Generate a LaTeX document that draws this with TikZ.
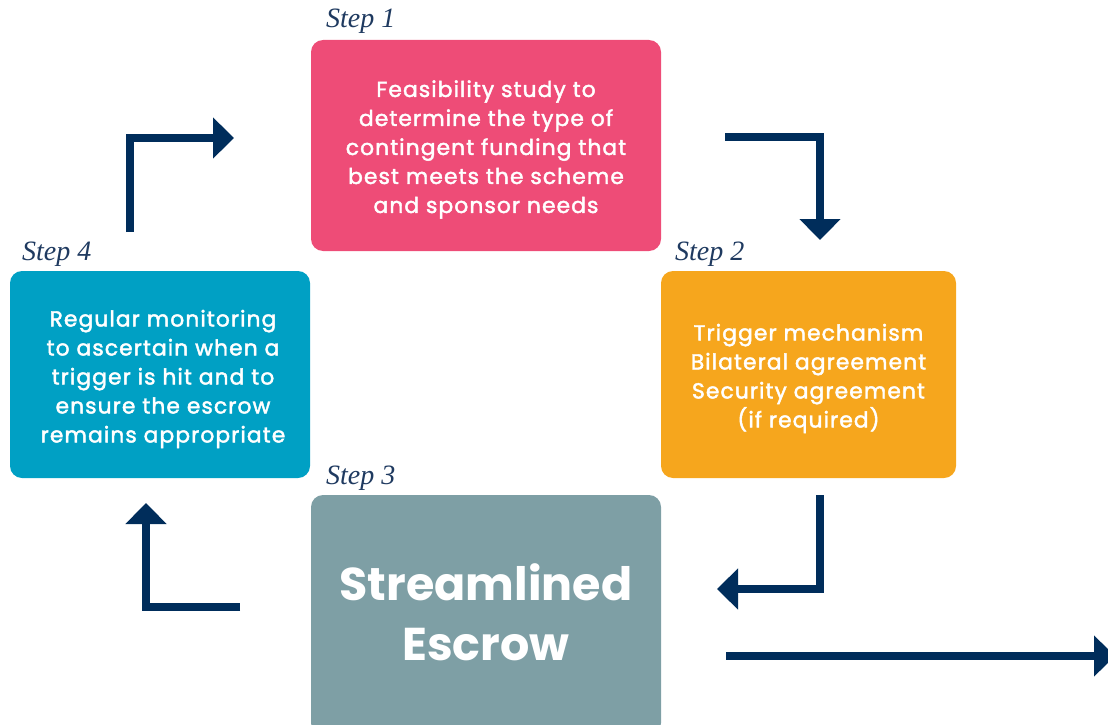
\documentclass[tikz,border=0pt]{standalone}
\usepackage{fontspec}
\setsansfont{Poppins}
\newfontfamily\medfont{Poppins}[FakeBold=2, LetterSpace=5]
\setmainfont{Liberation Serif}
\usetikzlibrary{arrows.meta}
\definecolor{pinkc}{HTML}{EE4C77}
\definecolor{orangec}{HTML}{F6A61D}
\definecolor{tealc}{HTML}{00A0C4}
\definecolor{greyc}{HTML}{7E9FA5}
\definecolor{navyc}{HTML}{002D5B}
\definecolor{labelc}{HTML}{1F3A60}
\tikzset{
  box/.style={rounded corners=12pt, inner sep=0pt, text=white, align=center,
    font=\medfont\fontsize{21.8}{29}\selectfont},
  steplabel/.style={anchor=west, inner sep=0pt, text=labelc,
    font=\itshape\fontsize{28}{30}\selectfont},
  flow/.style={draw=navyc, line width=8pt, -{Triangle[length=21pt,width=40pt]}}
}
\begin{document}
\begin{tikzpicture}[x=1pt,y=-1pt]
\useasboundingbox (0,0) rectangle (1108,725);
\clip (0,0) rectangle (1108,725);
% boxes
\node[box, fill=pinkc, minimum width=350pt, minimum height=211pt] (s1) at (486,145.5) {};
\node[box, fill=orangec, minimum width=295pt, minimum height=207pt] (s2) at (808.5,374.5) {};
\node[box, fill=greyc, minimum width=350pt, minimum height=240pt] (s3) at (486,615) {};
\node[box, fill=tealc, minimum width=300pt, minimum height=207pt] (s4) at (160,374.5) {};
% box texts
\node[box] (t1) at (486,149.5)
  {Feasibility study to\\determine the type of\\contingent funding that\\best meets the scheme\\and sponsor needs};
\node[box] (t2) at (808.5,378.5)
  {Trigger mechanism\\Bilateral agreement\\Security agreement\\(if required)};
\node[box, font=\sffamily\bfseries\fontsize{46}{60}\selectfont] (t3) at (486,612)
  {Streamlined\\Escrow};
\node[box] (t4) at (163,379)
  {Regular monitoring\\to ascertain when a\\trigger is hit and to\\ensure the escrow\\remains appropriate};
% step labels
\node[steplabel] (l1) at (326,21) {Step 1};
\node[steplabel] (l2) at (675,254) {Step 2};
\node[steplabel] (l3) at (326,478) {Step 3};
\node[steplabel] (l4) at (22,254) {Step 4};
% arrow coordinates
\coordinate (a1s) at (130,232);
\coordinate (a1c) at (130,138);
\coordinate (a1e) at (234,138);
\coordinate (a2s) at (725,137);
\coordinate (a2c) at (820,137);
\coordinate (a2e) at (820,240);
\coordinate (a3s) at (820,495);
\coordinate (a3c) at (820,589);
\coordinate (a3e) at (717,589);
\coordinate (a4s) at (240,607);
\coordinate (a4c) at (146,607);
\coordinate (a4e) at (146,503);
\coordinate (a5s) at (726,656);
\coordinate (a5e) at (1115,656);
\draw[flow] (a1s) -- (a1c) -- (a1e);
\draw[flow] (a2s) -- (a2c) -- (a2e);
\draw[flow] (a3s) -- (a3c) -- (a3e);
\draw[flow] (a4s) -- (a4c) -- (a4e);
\draw[flow] (a5s) -- (a5e);
\end{tikzpicture}
\end{document}
